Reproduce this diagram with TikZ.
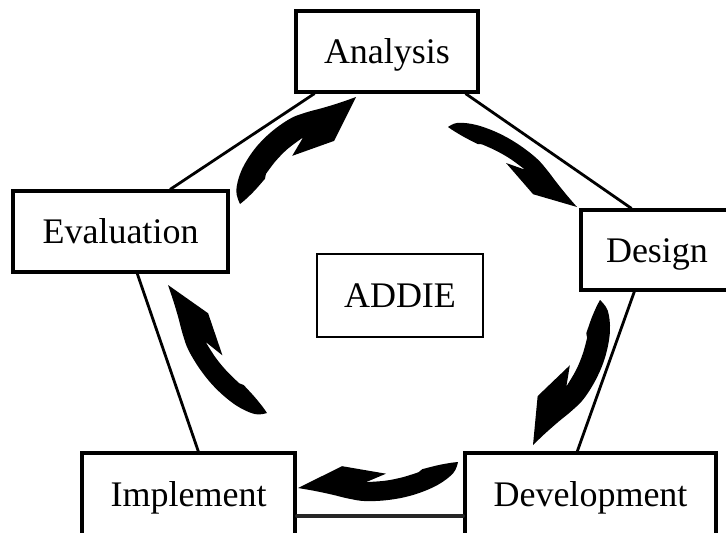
\documentclass[tikz,border=0pt]{standalone}
\usepackage{fontspec}
\setmainfont{Liberation Serif}
\usetikzlibrary{calc}
\tikzset{
  box/.style={draw, line width=3.4pt, fill=white, inner sep=0pt,
    text height=24pt, text depth=0pt, font=\fontsize{36}{40}\selectfont},
  thinbox/.style={box, line width=1.6pt},
  edge/.style={line width=2.8pt, line cap=round},
  arrowfill/.style={fill=black}
}
% block arrow: tail (#1,#2), head tip (#3,#4) in image px, thickness factor #5
\newcommand{\blockarrow}[5]{%
  \pgfmathsetmacro{\bdx}{#3-#1}%
  \pgfmathsetmacro{\bdy}{#2-#4}%
  \pgfmathsetmacro{\bpx}{-#5*\bdy}%
  \pgfmathsetmacro{\bpy}{#5*\bdx}%
  \begin{scope}[shift={(#1,-#2)}, x={(\bdx pt,\bdy pt)}, y={(\bpx pt,\bpy pt)}]
    \fill[arrowfill] (0,0)
      -- plot[smooth, tension=0.6] coordinates {(0,0) (0.04,0.06) (0.15,0.115) (0.3,0.148) (0.45,0.155) (0.6,0.14) (0.7,0.11) (0.8,0.07) (0.9,0.033) (1,0)}
      -- (0.71,-0.085) -- (0.45,0.0) -- (0.58,0.03)
      -- plot[smooth, tension=0.6] coordinates {(0.58,0.03) (0.46,0.04) (0.35,0.036) (0.25,0.022)}
      -- (0.225,0.008)
      -- plot[smooth, tension=0.6] coordinates {(0.225,0.008) (0.13,0.0) (0.05,-0.002) (0,0)}
      -- cycle;
  \end{scope}}
\begin{document}
\begin{tikzpicture}[x=1pt,y=1pt]
\useasboundingbox (0,0) rectangle (726,-533);
\fill[white] (0,0) rectangle (726,-533);
\clip (0,0) rectangle (726,-533);

% nodes
\node[box, minimum width=182pt, minimum height=81pt] (analysis) at (387,-51.5) {Analysis};
\node[box, minimum width=152pt, minimum height=80pt] (design) at (657,-250) {Design};
\node[box, minimum width=215pt, minimum height=81pt] (evaluation) at (120.5,-231.5) {Evaluation};
\node[thinbox, minimum width=166pt, minimum height=83pt] (addie) at (400,-295.5) {ADDIE};
\node[box, minimum width=213pt, minimum height=82pt] (implement) at (188.5,-494) {Implement};
\node[box, minimum width=251pt, minimum height=82pt] (development) at (590.5,-494) {Development};

% pentagon edges
\draw[edge] ([xshift=20pt]analysis.south west) -- ([xshift=159pt]evaluation.north west);
\draw[edge] ([xshift=-14pt]analysis.south east) -- ([xshift=52pt]design.north west);
\draw[edge] ([xshift=126pt]evaluation.south west) -- ([xshift=118pt]implement.north west);
\draw[edge] ([xshift=55pt]design.south west) -- ([xshift=114pt]development.north west);
\draw[edge, line width=3.2pt, draw=black!85] ([yshift=-22pt]implement.east) -- ([yshift=-22pt]development.west);

% curved block arrows
\blockarrow{240}{204}{356}{97}{1.3}
\blockarrow{448}{127}{577}{207}{0.95}
\blockarrow{600}{300}{533}{445}{1.2}
\blockarrow{458}{462}{298}{488}{1.05}
\blockarrow{267}{413}{168}{285}{1.05}
\end{tikzpicture}
\end{document}
